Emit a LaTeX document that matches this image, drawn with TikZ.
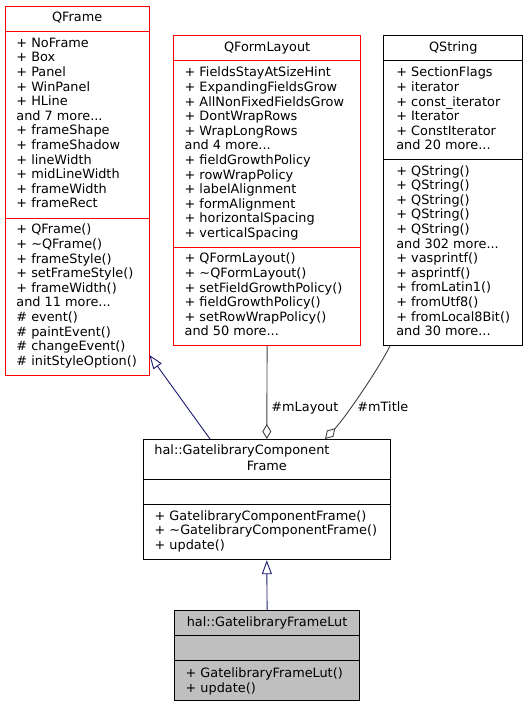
\documentclass[tikz,border=0pt]{standalone}
\usepackage{fontspec}
\setmainfont{DejaVu Sans}
\usetikzlibrary{arrows.meta}
\definecolor{inhblue}{HTML}{191970}
\definecolor{usegray}{HTML}{404040}
\definecolor{lutgray}{HTML}{BFBFBF}
\newcommand{\umlfont}{\fontsize{12.85}{14.6}\selectfont}

\begin{document}
\begin{tikzpicture}[x=1pt,y=-1pt,line width=0.9pt,
  box/.style={rectangle,draw=black,anchor=north west,inner sep=0pt},
  redbox/.style={box,draw=red},
  title/.style={anchor=base,inner sep=0pt,font=\umlfont},
  members/.style={anchor=base west,align=left,inner sep=0pt,font=\umlfont},
  inherit/.style={draw=inhblue,-{Triangle[open,length=14pt,width=10pt]}},
  usage/.style={draw=usegray,{Diamond[open,length=15pt,width=9pt]}-}]
%\draw[help lines, step=10pt] (0,0) grid (528,707);
\useasboundingbox (0,0) rectangle (528,707);

\node[redbox,minimum width=143.5pt,minimum height=369pt](qframe) at (5,6) {};
\node[redbox,minimum width=186.7pt,minimum height=310pt](qformlayout) at (173.3,35) {};
\node[box,minimum width=139pt,minimum height=310.5pt](qstring) at (383.3,34.5) {};
\node[box,minimum width=247.3pt,minimum height=120.3pt](gcf) at (142.7,439) {};
\node[box,fill=lutgray,minimum width=185.3pt,minimum height=90pt](lut) at (174,610) {};

\draw[red](qframe.west |- 0,31.3)--(qframe.east |- 0,31.3);
\draw[red](qframe.west |- 0,218.3)--(qframe.east |- 0,218.3);
\draw[red](qformlayout.west |- 0,60.7)--(qformlayout.east |- 0,60.7);
\draw[red](qformlayout.west |- 0,247)--(qformlayout.east |- 0,247);
\draw(qstring.west |- 0,60)--(qstring.east |- 0,60);
\draw(qstring.west |- 0,159.3)--(qstring.east |- 0,159.3);
\draw(gcf.west |- 0,479)--(gcf.east |- 0,479);
\draw(gcf.west |- 0,504.7)--(gcf.east |- 0,504.7);
\draw(lut.west |- 0,635.3)--(lut.east |- 0,635.3);
\draw(lut.west |- 0,660)--(lut.east |- 0,660);

% member lists are placed by the baseline of their last line
\node[title](qframe-t) at (qframe.north |- 0,21.8) {QFrame};
\node[members](qframe-a) at (16,207.8) {+ NoFrame\\+ Box\\+ Panel\\+ WinPanel\\+ HLine\\and 7 more...\\+ frameShape\\+ frameShadow\\+ lineWidth\\+ midLineWidth\\+ frameWidth\\+ frameRect};
\node[members](qframe-m) at (16,365.2) {+ QFrame()\\+ \textasciitilde QFrame()\\+ frameStyle()\\+ setFrameStyle()\\+ frameWidth()\\and 11 more...\\\# event()\\\# paintEvent()\\\# changeEvent()\\\# initStyleOption()};

\node[title](qformlayout-t) at (qformlayout.north |- 0,51.2) {QFormLayout};
\node[members](qformlayout-a) at (184.2,237.4) {+ FieldsStayAtSizeHint\\+ ExpandingFieldsGrow\\+ AllNonFixedFieldsGrow\\+ DontWrapRows\\+ WrapLongRows\\and 4 more...\\+ fieldGrowthPolicy\\+ rowWrapPolicy\\+ labelAlignment\\+ formAlignment\\+ horizontalSpacing\\+ verticalSpacing};
\node[members](qformlayout-m) at (184.2,335.8) {+ QFormLayout()\\+ \textasciitilde QFormLayout()\\+ setFieldGrowthPolicy()\\+ fieldGrowthPolicy()\\+ setRowWrapPolicy()\\and 50 more...};

\node[title](qstring-t) at (qstring.north |- 0,51.2) {QString};
\node[members](qstring-a) at (395.9,149.8) {+ SectionFlags\\+ iterator\\+ const\_iterator\\+ Iterator\\+ ConstIterator\\and 20 more...};
\node[members](qstring-m) at (395.9,335.6) {+ QString()\\+ QString()\\+ QString()\\+ QString()\\+ QString()\\and 302 more...\\+ vasprintf()\\+ asprintf()\\+ fromLatin1()\\+ fromUtf8()\\+ fromLocal8Bit()\\and 30 more...};

\node[members](gcf-t1) at (154,454.5) {hal::GatelibraryComponent};
\node[title](gcf-t2) at (gcf.north |- 0,470) {Frame};
\node[members](gcf-m) at (154.2,549.4) {+ GatelibraryComponentFrame()\\+ \textasciitilde GatelibraryComponentFrame()\\+ update()};

\node[title](lut-t) at (lut.north |- 0,626) {hal::GatelibraryFrameLut};
\node[members](lut-m) at (185.2,692.4) {+ GatelibraryFrameLut()\\+ update()};

\node[members](lbl-layout) at (271,411.2) {\#mLayout};
\node[members](lbl-title) at (357,411.2) {\#mTitle};

\draw[inherit](gcf.north -| 210,0)--(qframe.east |- 0,355);
\draw[inherit](lut.north)--(gcf.south);
\draw[usage](gcf.north)--(qformlayout.south);
\draw[usage](gcf.north -| 325,0) .. controls (345,418) and (378,370) .. (qstring.south -| 390,0);
\end{tikzpicture}
\end{document}
